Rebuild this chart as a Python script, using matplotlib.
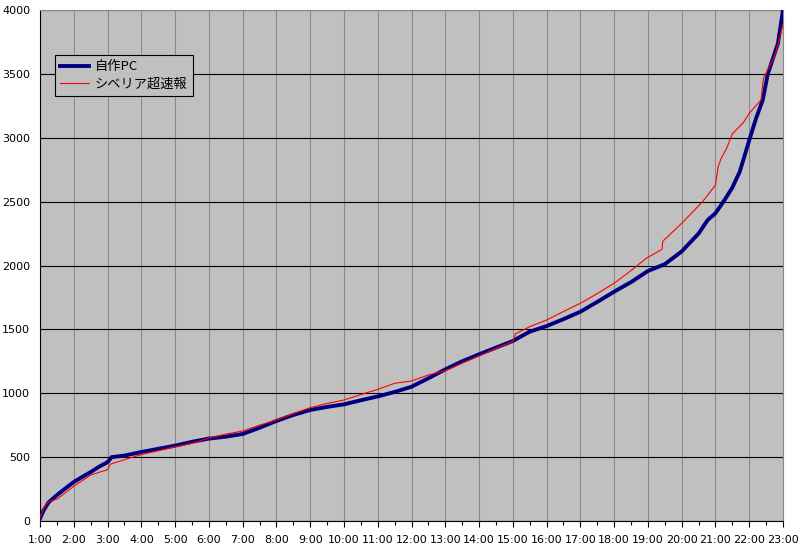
import matplotlib
matplotlib.use("Agg")
import matplotlib.pyplot as plt
from matplotlib.ticker import MultipleLocator, FixedLocator

plt.rcParams['font.family'] = ['Noto Sans CJK JP', 'DejaVu Sans']

# time in hours (1:00 .. 23:00)
blue_t = [1.0, 1.1, 1.25, 1.5, 1.75, 2.0, 2.25, 2.5, 2.75, 3.0, 3.12, 3.5, 4.0, 4.5, 5.0,
          5.5, 6.0, 6.5, 7.0, 7.5, 8.0, 8.5, 9.0, 9.5, 10.0, 10.5, 11.0, 11.5, 12.0,
          12.5, 13.0, 13.5, 14.0, 14.5, 15.0, 15.5, 16.0, 16.5, 17.0, 17.5, 18.0,
          18.5, 19.0, 19.5, 20.0, 20.5, 20.77, 21.0, 21.27, 21.5, 21.72, 22.0, 22.2,
          22.4, 22.55, 22.85, 23.0]
blue_v = [20, 80, 145, 203, 255, 305, 345, 383, 425, 460, 500, 512, 540, 565, 590,
          620, 645, 660, 681, 730, 783, 830, 869, 893, 913, 945, 975, 1010, 1051,
          1117, 1187, 1250, 1305, 1357, 1409, 1482, 1526, 1580, 1638, 1715, 1795,
          1870, 1957, 2010, 2110, 2250, 2356, 2409, 2513, 2610, 2735, 2980, 3150,
          3296, 3500, 3739, 4000]

red_t = [1.0, 1.17, 1.25, 1.5, 2.0, 2.5, 3.0, 3.08, 3.5, 4.0, 4.5, 5.0, 5.5, 6.0,
         6.5, 7.0, 7.5, 8.0, 8.5, 9.0, 9.5, 10.0, 10.5, 11.0, 11.5, 12.0, 12.5,
         13.0, 13.5, 14.0, 14.5, 15.0, 15.08, 15.5, 16.0, 16.5, 17.0, 17.5, 18.0,
         18.5, 18.95, 19.42, 19.44, 20.0, 20.62, 21.0, 21.08, 21.17, 21.33, 21.5,
         21.83, 22.0, 22.35, 22.42, 22.77, 23.0]
red_v = [30, 130, 150, 171, 272, 360, 402, 445, 480, 520, 550, 580, 608, 648,
         680, 704, 750, 790, 840, 887, 920, 947, 990, 1030, 1078, 1096, 1143,
         1177, 1235, 1292, 1350, 1405, 1465, 1521, 1573, 1640, 1704, 1780, 1861,
         1960, 2056, 2127, 2190, 2330, 2500, 2630, 2773, 2839, 2917, 3030,
         3120, 3191, 3296, 3465, 3648, 3885]

hour_labels = [f"{h}:00" for h in range(1, 24)]
series_names = ["自作PC", "シベリア超速報"]

fig = plt.figure(figsize=(7.98, 5.45), dpi=100)
fig.patch.set_facecolor('white')
ax = fig.add_axes([40/798, 24/545, 743/798, 511/545])
ax.set_facecolor('#C0C0C0')

ax.set_xlim(1, 23)
ax.set_ylim(0, 4000)

ax.xaxis.set_major_locator(FixedLocator(list(range(1, 24))))
ax.xaxis.set_minor_locator(MultipleLocator(0.5))
ax.set_xticklabels(hour_labels, fontsize=8, family=['DejaVu Sans'])
ax.yaxis.set_major_locator(MultipleLocator(500))
for lab in ax.get_yticklabels():
    lab.set_family(['DejaVu Sans'])

ax.grid(axis='x', which='major', color='#8a8a8a', linewidth=0.8)
ax.grid(axis='y', which='major', color='black', linewidth=0.8)
ax.set_axisbelow(True)

ax.tick_params(axis='x', which='major', length=4, width=0.8, pad=6, direction='out')
ax.tick_params(axis='x', which='minor', length=3, width=0.8, direction='out')
ax.tick_params(axis='y', which='major', length=0, pad=7, labelsize=8)

for s in ['top', 'right']:
    ax.spines[s].set_color('#8a8a8a')
    ax.spines[s].set_linewidth(0.8)
for s in ['left', 'bottom']:
    ax.spines[s].set_color('black')
    ax.spines[s].set_linewidth(0.8)

ax.plot(blue_t, blue_v, color='#000080', linewidth=2.8, label=series_names[0], zorder=3)
ax.plot(red_t, red_v, color='#FF0000', linewidth=0.8, label=series_names[1], zorder=4)

leg = ax.legend(loc='upper left', bbox_to_anchor=(15/743, (511-45)/511),
                fancybox=False, frameon=True, edgecolor='black', facecolor='#C0C0C0',
                framealpha=1, fontsize=9.5, handlelength=2.2, handletextpad=0.4,
                borderpad=0.4, labelspacing=0.3, borderaxespad=0)
leg.get_frame().set_linewidth(0.8)

fig.savefig('out.png', dpi=100, facecolor='white')
